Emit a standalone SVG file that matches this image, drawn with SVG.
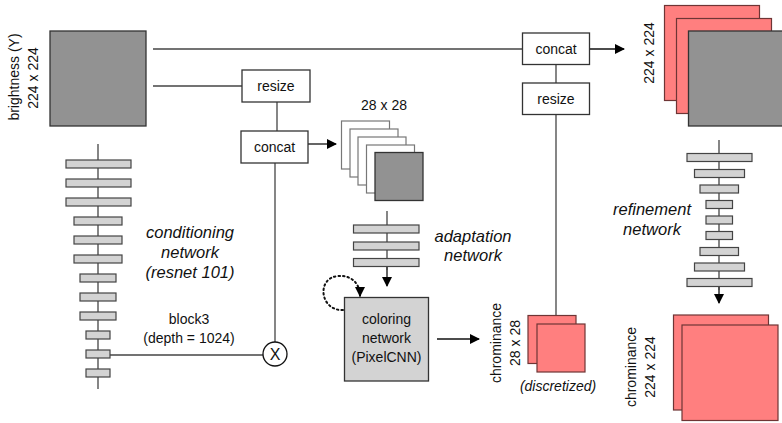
<svg xmlns="http://www.w3.org/2000/svg" width="782" height="423" viewBox="0 0 782 423">
<defs>
<marker id="ah" markerWidth="10" markerHeight="10" refX="9" refY="5" orient="auto" markerUnits="userSpaceOnUse"><path d="M0,0 L10,5 L0,10 Z" fill="#000"/></marker>
<style>
text{font-family:"Liberation Sans",Arial,sans-serif;fill:#111;}
.t13{font-size:14px;}
.it{font-size:16.5px;font-style:italic;}
.box{fill:#fff;stroke:#333;stroke-width:1.3;}
.bar{fill:#d3d3d3;stroke:#444;stroke-width:1.2;}
.gray{fill:#929292;stroke:#333;stroke-width:1.3;}
.pink{fill:#ff7f7f;stroke:#6e3535;stroke-width:1.2;}
.ghost{fill:#fff;stroke:#777;stroke-width:1.2;}
.ln{stroke:#444;stroke-width:1.3;fill:none;}
.ar{stroke:#111;stroke-width:1.3;fill:none;marker-end:url(#ah);}
</style>
</defs>
<rect width="782" height="423" fill="#fff"/>

<g id="connectors">
<line class="ln" x1="153" y1="49" x2="522" y2="49"/>
<line class="ln" x1="153" y1="86" x2="242" y2="86"/>
<line class="ln" x1="277" y1="102" x2="277" y2="131"/>
<line class="ln" x1="275" y1="163" x2="275" y2="342"/>
<line class="ln" x1="110" y1="355" x2="263" y2="355"/>
<line class="ar" x1="308" y1="144" x2="336" y2="144"/>
<line class="ln" x1="556" y1="64" x2="556" y2="83"/>
<line class="ln" x1="556" y1="115" x2="556" y2="315"/>
<line class="ar" x1="590" y1="49" x2="624" y2="49"/>
<line class="ar" x1="437" y1="339" x2="479" y2="339"/>
<line class="ar" x1="387" y1="267" x2="387" y2="286"/>
<path d="M343,310 C320,311 316,278 338,276 C352,275 360,284 360,296" fill="none" stroke="#111" stroke-width="2" stroke-dasharray="1.5,3" stroke-linecap="round" marker-end="url(#ah)"/>
<line class="ar" x1="719" y1="286" x2="719" y2="303"/>
</g>

<g id="brightness">
<rect class="gray" x="50" y="31" width="96" height="95"/>
<text class="t13" transform="translate(19,77) rotate(-90)" text-anchor="middle">brightness (Y)</text>
<text class="t13" transform="translate(38,78) rotate(-90)" text-anchor="middle">224 x 224</text>
</g>

<g id="conditioning-network">
<line class="ln" x1="98" y1="144" x2="98" y2="389"/>
<rect class="bar" x="66" y="160" width="65" height="8"/>
<rect class="bar" x="66" y="179" width="65" height="8"/>
<rect class="bar" x="66" y="198" width="65" height="8"/>
<rect class="bar" x="74" y="217" width="48" height="8"/>
<rect class="bar" x="74" y="236" width="48" height="8"/>
<rect class="bar" x="74" y="255" width="48" height="8"/>
<rect class="bar" x="80" y="274" width="36" height="8"/>
<rect class="bar" x="80" y="293" width="36" height="8"/>
<rect class="bar" x="80" y="312" width="36" height="8"/>
<rect class="bar" x="86" y="331" width="24" height="8"/>
<rect class="bar" x="86" y="350" width="24" height="8"/>
<rect class="bar" x="86" y="369" width="24" height="8"/>
<text class="it" x="190" y="238" text-anchor="middle">conditioning</text>
<text class="it" x="190" y="258" text-anchor="middle">network</text>
<text class="it" x="190" y="278" text-anchor="middle">(resnet 101)</text>
<text class="t13" x="189" y="324" text-anchor="middle">block3</text>
<text class="t13" x="189" y="343" text-anchor="middle">(depth = 1024)</text>
</g>

<g id="resize1">
<rect class="box" x="242" y="70" width="68" height="32"/>
<text class="t13" x="276" y="91" text-anchor="middle">resize</text>
</g>

<g id="concat1">
<rect class="box" x="241" y="131" width="67" height="32"/>
<text class="t13" x="274.5" y="152" text-anchor="middle">concat</text>
</g>

<g id="multiply">
<circle cx="275" cy="354" r="12" fill="#fff" stroke="#111" stroke-width="1.3"/>
<text x="275" y="360" text-anchor="middle" style="font-size:16px">X</text>
</g>

<g id="features-28">
<text class="t13" x="384" y="110" text-anchor="middle">28 x 28</text>
<rect class="ghost" x="341.5" y="121" width="48" height="48"/>
<rect class="ghost" x="350" y="129" width="48" height="48"/>
<rect class="ghost" x="358" y="137" width="48" height="48"/>
<rect class="ghost" x="366.5" y="145" width="48" height="48"/>
<rect class="gray" x="375" y="152.5" width="48" height="48"/>
</g>

<g id="adaptation-network">
<line class="ln" x1="387" y1="211" x2="387" y2="270"/>
<rect class="bar" x="353.5" y="225" width="65.5" height="8"/>
<rect class="bar" x="353.5" y="242" width="65.5" height="8"/>
<rect class="bar" x="353.5" y="258.5" width="65.5" height="8"/>
<text class="it" x="473" y="242" text-anchor="middle">adaptation</text>
<text class="it" x="473" y="261" text-anchor="middle">network</text>
</g>

<g id="coloring-network">
<rect x="344.5" y="297.5" width="84" height="83.5" fill="#d3d3d3" stroke="#333" stroke-width="1.3"/>
<text class="t13" x="386.5" y="324" text-anchor="middle">coloring</text>
<text class="t13" x="386.5" y="343" text-anchor="middle">network</text>
<text class="t13" x="386.5" y="362" text-anchor="middle">(PixelCNN)</text>
</g>

<g id="chrominance-28">
<text class="t13" transform="translate(501,343) rotate(-90)" text-anchor="middle">chrominance</text>
<text class="t13" transform="translate(520,343) rotate(-90)" text-anchor="middle">28 x 28</text>
<rect class="pink" x="528" y="315.5" width="48" height="48"/>
<rect class="pink" x="537" y="324" width="48" height="48"/>
<text x="558" y="391" text-anchor="middle" style="font-size:14px;font-style:italic">(discretized)</text>
</g>

<g id="concat2">
<rect class="box" x="522.5" y="33" width="67" height="31.5"/>
<text class="t13" x="556" y="54" text-anchor="middle">concat</text>
</g>

<g id="resize2">
<rect class="box" x="522.5" y="83" width="67" height="31.5"/>
<text class="t13" x="556" y="104" text-anchor="middle">resize</text>
</g>

<g id="output-224">
<text class="t13" transform="translate(654,53) rotate(-90)" text-anchor="middle">224 x 224</text>
<rect class="pink" x="664.5" y="5.5" width="95" height="95"/>
<rect class="pink" x="676.5" y="18.5" width="95" height="95"/>
<rect class="gray" x="688.5" y="31" width="95" height="95"/>
</g>

<g id="refinement-network">
<line class="ln" x1="719" y1="140" x2="719" y2="290"/>
<rect class="bar" x="687" y="153.5" width="65" height="8"/>
<rect class="bar" x="694.5" y="169.5" width="50" height="8"/>
<rect class="bar" x="700" y="185" width="38.5" height="8"/>
<rect class="bar" x="706" y="200.5" width="26.5" height="8"/>
<rect class="bar" x="706" y="216" width="26.5" height="8"/>
<rect class="bar" x="706" y="231.5" width="26.5" height="8"/>
<rect class="bar" x="700" y="247.5" width="38.5" height="8"/>
<rect class="bar" x="694.5" y="263" width="50" height="8"/>
<rect class="bar" x="687" y="278.5" width="65" height="8"/>
<text class="it" x="652" y="215" text-anchor="middle">refinement</text>
<text class="it" x="652" y="235" text-anchor="middle">network</text>
</g>

<g id="chrominance-224">
<text class="t13" transform="translate(636,367) rotate(-90)" text-anchor="middle">chrominance</text>
<text class="t13" transform="translate(655,367) rotate(-90)" text-anchor="middle">224 x 224</text>
<rect class="pink" x="673.5" y="315" width="95" height="95"/>
<rect class="pink" x="682" y="325" width="96" height="95.5"/>
</g>
</svg>
